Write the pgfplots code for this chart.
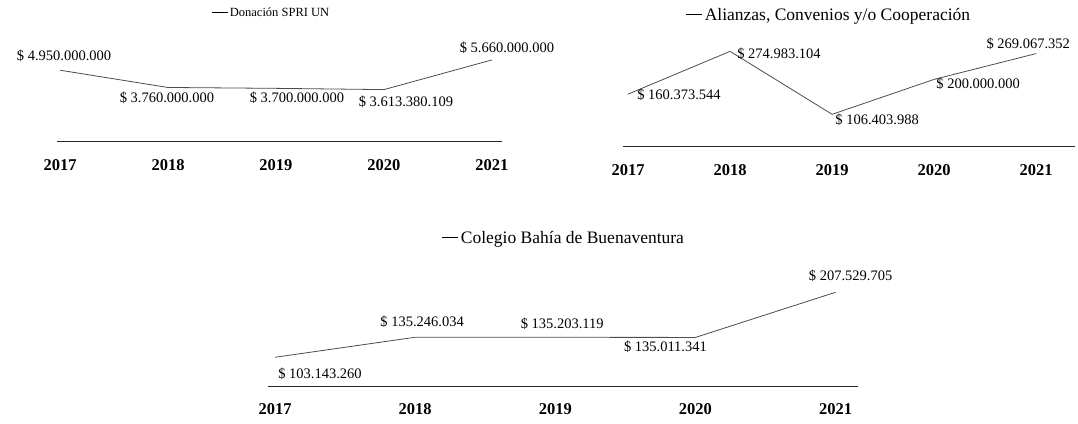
\documentclass[border=0pt]{standalone}
\usepackage{fontspec}
\setmainfont{Liberation Serif}
\usepackage{pgfplots}
\usepackage{pgfplotstable}
\pgfplotsset{compat=1.18}

% values in millions of pesos; dx,dy = label offsets (pt)
\pgfplotstableread[col sep=comma]{
x,y,dx,dy,lab
0,4950,4,14,\$~4.950.000.000
1,3760,-1,-10,\$~3.760.000.000
2,3700,21,-9,\$~3.700.000.000
3,3613.38,22,-12,\$~3.613.380.109
4,5660,15,12,\$~5.660.000.000
}\donacion

\pgfplotstableread[col sep=comma]{
x,y,dx,dy,lab
0,160.373544,51,-1,\$~160.373.544
1,274.983104,49,-2,\$~274.983.104
2,106.403988,45,-5,\$~106.403.988
3,200.000000,44,-4,\$~200.000.000
4,269.067352,-8,10,\$~269.067.352
}\alianzas

\pgfplotstableread[col sep=comma]{
x,y,dx,dy,lab
0,103.143260,45,-17,\$~103.143.260
1,135.246034,7,15,\$~135.246.034
2,135.203119,7,14,\$~135.203.119
3,135.011341,-30,-9,\$~135.011.341
4,207.529705,15,16,\$~207.529.705
}\colegio

\pgfplotsset{
  mychart/.style={
    scale only axis,
    axis x line*=bottom,
    axis y line=none,
    xtick={0,1,2,3,4},
    xticklabels={2017,2018,2019,2020,2021},
    major tick length=0pt,
    x axis line style={black!85, line width=1pt},
    xticklabel style={font=\fontsize{16.5}{16.5}\selectfont\bfseries, anchor=center, yshift=-23pt},
    clip=false,
    point meta=explicit symbolic,
    nodes near coords,
    visualization depends on={\thisrow{dx}\as\dx},
    visualization depends on={\thisrow{dy}\as\dy},
    every node near coord/.append style={font=\fontsize{14.5}{14.5}\selectfont, anchor=center, xshift=\dx pt, yshift=\dy pt, black, inner sep=0pt},
    title style={font=\fontsize{13}{13}\selectfont, anchor=center, at={(0.5,1)}},
  },
  myline/.style={black!70, line width=0.8pt, mark=none},
}

\newcommand{\leg}{\raisebox{0.3em}{\rule{16pt}{0.8pt}}\,}

\begin{document}
\begin{tikzpicture}[x=1pt,y=1pt]
\useasboundingbox (0,0) rectangle (1078,423);

% Chart 1
\begin{axis}[mychart,
  at={(57pt,281pt)}, anchor=south west,
  width=445pt, height=87pt,
  xmin=-0.028, xmax=4.093, ymin=0, ymax=6000,
  title={\leg Donación SPRI UN},
  title style={yshift=37pt, xshift=-9pt, font=\fontsize{12.5}{12.5}\selectfont}]
\addplot[myline] table[x=x,y=y,meta=lab]{\donacion};
\end{axis}

% Chart 2
\begin{axis}[mychart,
  at={(623pt,276pt)}, anchor=south west,
  width=452pt, height=105pt,
  xmin=-0.049, xmax=4.38, ymin=19, ymax=300,
  title={\leg Alianzas, Convenios y/o Cooperación},
  title style={yshift=20pt, xshift=-21pt, font=\fontsize{17.5}{17.5}\selectfont}]
\addplot[myline] table[x=x,y=y,meta=lab]{\alianzas};
\end{axis}

% Chart 3
\begin{axis}[mychart,
  at={(268pt,37pt)}, anchor=south west,
  width=590pt, height=101.5pt,
  xmin=-0.05, xmax=4.16, ymin=57, ymax=220,
  title={\leg Colegio Bahía de Buenaventura},
  title style={yshift=39.5pt, font=\fontsize{17.5}{17.5}\selectfont}]
\addplot[myline] table[x=x,y=y,meta=lab]{\colegio};
\end{axis}
\end{tikzpicture}
\end{document}
